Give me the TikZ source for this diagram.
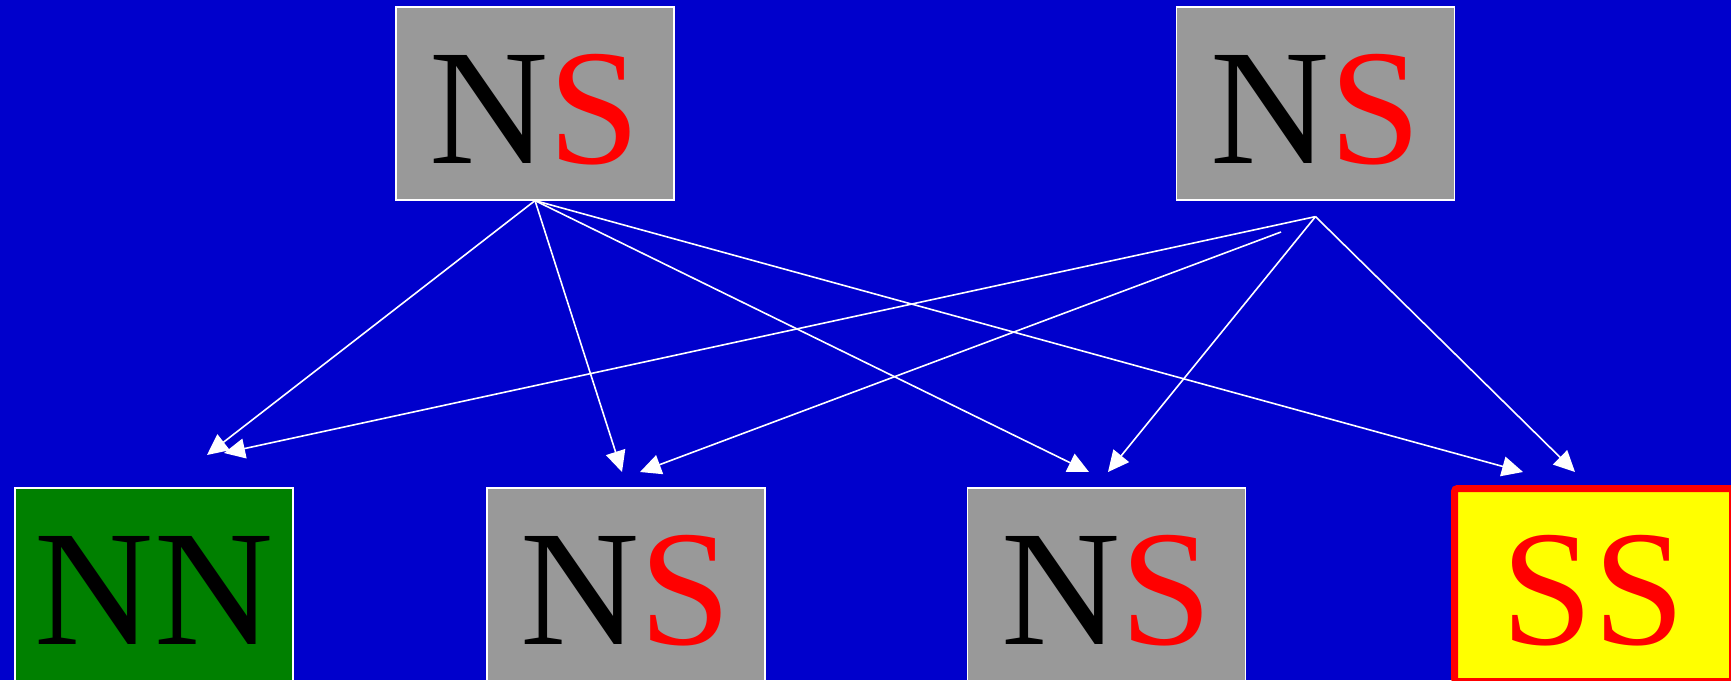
\documentclass[tikz,border=0pt]{standalone}
\usepackage{fontspec}
\setmainfont{Liberation Serif}
\usetikzlibrary{arrows.meta}
\definecolor{bgblue}{RGB}{0,0,204}
\definecolor{boxgray}{RGB}{153,153,153}
\definecolor{boxgreen}{RGB}{0,128,0}
\definecolor{boxyellow}{RGB}{255,255,0}
\definecolor{letred}{RGB}{255,0,0}
\tikzset{
  cell/.style={rectangle, draw=white, line width=1.2pt, minimum width=278pt, minimum height=193pt,
    inner sep=0pt, text height=130pt, text depth=11pt,
    font=\fontsize{165}{165}\selectfont},
  graycell/.style={cell, fill=boxgray},
  greencell/.style={cell, fill=boxgreen},
  goldcell/.style={cell, draw=letred, line width=7pt, fill=boxyellow, rounded corners=3pt},
  link/.style={draw=white, line width=1.6pt, -{Triangle[length=21pt,width=20pt]}, fill=white},
  link2/.style={draw=white, line width=1.6pt}
}
\newcommand{\LetN}{\textcolor{black}{N}}
\newcommand{\LetS}{\textcolor{letred}{S}}
\begin{document}
\begin{tikzpicture}[x=1pt,y=-1pt]
\fill[bgblue] (0,0) rectangle (1731,680);
\useasboundingbox (0,0) rectangle (1731,680);
% top nodes
\node[graycell] (t1) at (535,103.5) {\LetN\LetS};
\node[graycell] (t2) at (1315.5,103.5) {\LetN\LetS};
% bottom nodes
\node[greencell] (b1) at (154,584.5) {\LetN\LetN};
\node[graycell] (b2) at (626,584.5) {\LetN\LetS};
\node[graycell] (b3) at (1106.5,584.5) {\LetN\LetS};
\node[goldcell] (b4) at (1593.5,585) {\LetS\LetS};
% connector coordinates
\coordinate (v2) at ([yshift=-16pt]t2.south);
\coordinate (f2) at (1281,232);
\coordinate (e11) at (207,455);
\coordinate (e21) at (224,453);
\coordinate (e12) at (622,472);
\coordinate (e22) at (640,472);
\coordinate (e13) at (1089,472);
\coordinate (e23) at (1108,472);
\coordinate (e14) at (1523,472);
\coordinate (e24) at (1575,472);
% connectors from top-left node
\draw[link] (t1.south) -- (e11);
\draw[link] (t1.south) -- (e12);
\draw[link] (t1.south) -- (e13);
\draw[link] (t1.south) -- (e14);
% connectors from top-right node
\draw[link] (v2) -- (e21);
\draw[link] (f2) -- (e22);
\draw[link] (v2) -- (e23);
\draw[link] (v2) -- (e24);
\end{tikzpicture}
\end{document}
